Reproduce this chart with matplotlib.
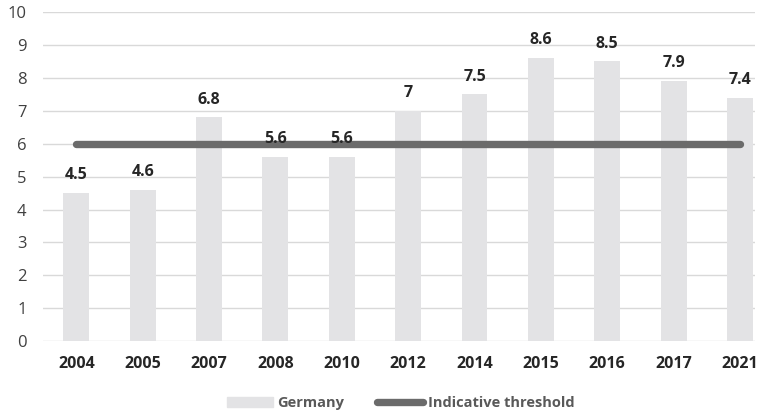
import matplotlib.pyplot as plt
import matplotlib.lines as mlines
import matplotlib.patches as mpatches
import numpy as np

years = ["2004", "2005", "2007", "2008", "2010", "2012", "2014", "2015", "2016", "2017", "2021"]
germany = [4.5, 4.6, 6.8, 5.6, 5.6, 7, 7.5, 8.6, 8.5, 7.9, 7.4]
threshold = [6] * len(years)

plt.rcParams['font.family'] = ['Open Sans', 'DejaVu Sans']

fig = plt.figure(figsize=(7.7, 4.17), dpi=100)
ax = fig.add_axes([0.056, 0.182, 0.924, 0.789])

x = np.arange(len(years))
ax.bar(x, germany, width=0.39, color='#e3e3e5', zorder=2)
ax.plot(x, threshold, color='#6b6b6b', linewidth=5.3, solid_capstyle='round', zorder=3)

for xi, v in zip(x, germany):
    ax.annotate(f"{v:g}", (xi, v), xytext=(0, 7), textcoords='offset points',
                ha='center', va='bottom', fontsize=11.5, fontweight='bold', color='#262626')

# the original chart is clipped on the right, so the last slot is narrower
ax.set_xlim(-0.5, 10.22)
ax.set_ylim(0, 10)
ax.set_yticks(range(0, 11))
ax.set_xticks(x)
ax.set_xticklabels(years, fontweight='bold', fontsize=11.5, color='#262626')
ax.tick_params(axis='y', labelsize=12, labelcolor='#404040', length=0, pad=12)
ax.tick_params(axis='x', length=0, pad=11)
ax.grid(axis='y', color='#d9d9d9', linewidth=1, zorder=0)
for s in ax.spines.values():
    s.set_visible(False)

handles = [mpatches.Patch(color='#e3e3e5', label='Germany'),
           mlines.Line2D([], [], color='#6b6b6b', linewidth=5.3, solid_capstyle='round',
                         label='Indicative threshold')]
leg = fig.legend(handles=handles, loc='center', bbox_to_anchor=(0.52, 0.033), ncol=2,
                 frameon=False, fontsize=10.5, handlelength=3.2, handletextpad=0.3,
                 columnspacing=2.2)
for t in leg.get_texts():
    t.set_color('#595959')
    t.set_fontweight('bold')

fig.savefig('out.png', dpi=100)
